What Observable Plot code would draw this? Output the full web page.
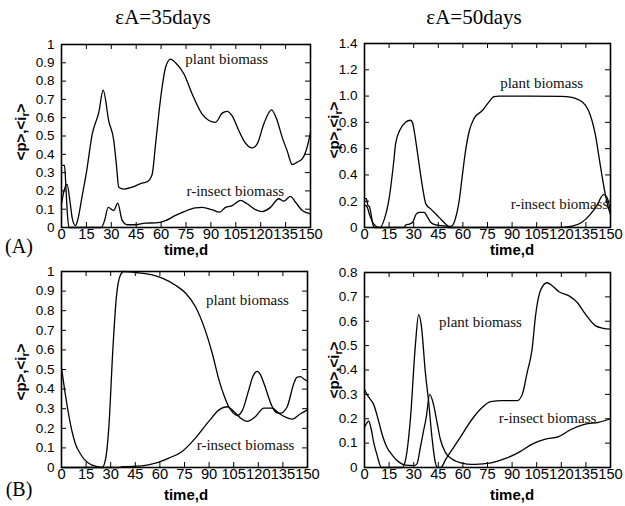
<!DOCTYPE html>
<html><head><meta charset="utf-8">
<script src="https://cdn.jsdelivr.net/npm/d3@7"></script>
<script src="https://cdn.jsdelivr.net/npm/@observablehq/plot@0.6"></script>
<style>
body{margin:0;background:#fff}
#wrap{position:relative;width:625px;height:506px;overflow:hidden;background:#fff;font-family:"Liberation Sans",Arial,sans-serif;color:#000}
#wrap svg{position:absolute}
.abs{position:absolute;white-space:nowrap;line-height:1;transform:translate(-50%,-50%)}
.title{font-family:"Liberation Serif","Times New Roman",serif;font-size:21px}
.pl{font-family:"Liberation Serif","Times New Roman",serif;font-size:20px}
.xl{font-weight:bold;font-size:15px}
.yl{font-weight:bold;font-size:15px;transform:translate(-50%,-50%) rotate(-90deg)}
.yl sub{font-size:70%;vertical-align:-3px;line-height:0}
</style></head><body><div id="wrap"></div>
<script>
// ---- tick values and labels ----
const xTicks = [0,15,30,45,60,75,90,105,120,135,150];
const xTickLabels = ["0","15","30","45","60","75","90","105","120","135","150"];
const yTicks10 = [0,0.1,0.2,0.3,0.4,0.5,0.6,0.7,0.8,0.9,1];
const yLabels10 = ["0","0.1","0.2","0.3","0.4","0.5","0.6","0.7","0.8","0.9","1"];
const yTicks14 = [0,0.2,0.4,0.6,0.8,1.0,1.2,1.4];
const yLabels14 = ["0","0.2","0.4","0.6","0.8","1.0","1.2","1.4"];
const yTicks08 = [0,0.1,0.2,0.3,0.4,0.5,0.6,0.7,0.8];
const yLabels08 = ["0","0.1","0.2","0.3","0.4","0.5","0.6","0.7","0.8"];

// ---- (A) eA=35 days ----
const aL_plantT = [0,1.5,3.4,5,6.5,8.4,10,12.4,15,18.5,22.5,25.1,28.5,31.5,33,34.5,37.5,42.6,47.6,51.6,54.6,56.6,58.6,60.5,62.7,65.7,68.7,73.7,78.7,84.7,88.8,92.8,96.8,99.8,102.8,106.8,109.8,114.9,117.9,121.9,126.5,129.9,132.9,135.9,139,142,145,148,150];
const aL_plantV = [0.13,0.2,0.235,0.15,0.05,0.01,0.05,0.17,0.3,0.51,0.63,0.75,0.58,0.475,0.35,0.22,0.21,0.22,0.24,0.25,0.29,0.45,0.62,0.76,0.876,0.92,0.9,0.84,0.73,0.62,0.585,0.575,0.625,0.635,0.61,0.53,0.475,0.435,0.457,0.567,0.643,0.585,0.494,0.42,0.344,0.357,0.375,0.44,0.52];
const aL_insT = [0,1.8,2.5,3.5,4.5,24,26,28.1,31.5,33.9,36.5,39.6,44.6,50.6,56.6,62.7,68.7,74.7,80.7,84.7,90.8,95.2,98.8,102.8,107.8,111.8,116.9,120.9,125.9,130.9,133.9,137.9,141,145,150];
const aL_insV = [0.34,0.34,0.25,0.08,0,0,0.04,0.11,0.093,0.133,0.04,0.015,0.015,0.024,0.025,0.038,0.066,0.09,0.107,0.11,0.097,0.084,0.11,0.12,0.148,0.13,0.098,0.087,0.11,0.157,0.144,0.17,0.138,0.093,0.075];

// ---- (A) eA=50 days ----
const aR_plantT = [0,1.5,3,5,7,9.5,12,15,17.9,19,21.9,25,28,29.2,30.5,32.4,35.4,37.4,40.5,45.5,49.6,51.6,53,54.7,56.5,57.7,59.5,61.7,64,66.8,71.9,75.9,78.9,82,100,120,126.5,130,132.6,136.6,140.7,143.7,146.8,148.5,150];
const aR_plantV = [0.17,0.16,0.1,0.04,0.01,0,0.06,0.22,0.51,0.64,0.75,0.8,0.816,0.8,0.72,0.56,0.306,0.18,0.14,0.077,0.025,0.008,0.01,0.04,0.12,0.2,0.38,0.59,0.74,0.83,0.89,0.956,0.995,1,1,0.998,0.99,0.975,0.957,0.89,0.71,0.48,0.255,0.16,0.1];
const aR_insT = [0,1.2,2,3,4,5,6,24,25.3,27.3,29.4,31.4,33.4,36.4,38.5,40.5,43.5,49.6,51,118,126.5,132.6,137.7,141.7,145.7,147.8,150];
const aR_insV = [0.22,0.22,0.17,0.16,0.1,0.03,0,0,0.02,0.026,0.04,0.1,0.115,0.115,0.077,0.038,0.02,0.01,0,0,0.01,0.04,0.1,0.166,0.25,0.23,0.13];

// ---- (B) eA=35 days ----
const bL_plantT = [0,2.4,5.5,8.5,11.5,14,18,23,24.8,26.8,28.9,31.3,33.3,36,38,45.1,55.3,61.4,69.5,75.6,81.7,86.8,91.9,96,99,102,104.5,107.1,110.2,114.2,116.5,119.3,121.5,123.4,128.5,131,133.5,137.6,141.7,143.5,145.7,148,150];
const bL_plantV = [0.51,0.37,0.22,0.12,0.07,0.04,0.015,0.003,0,0.04,0.21,0.6,0.855,0.983,1,0.995,0.983,0.966,0.93,0.89,0.82,0.72,0.583,0.447,0.37,0.31,0.28,0.265,0.29,0.396,0.46,0.49,0.47,0.43,0.31,0.28,0.277,0.31,0.43,0.46,0.464,0.45,0.44];
const bL_insT = [0,35,37,49.2,57.3,65.4,73.6,81.7,89.8,96,101,105.1,109.2,113.2,118.3,123.4,128.5,132.5,136.6,140.7,145.7,150];
const bL_insV = [0,0,0.004,0.008,0.022,0.048,0.082,0.15,0.235,0.294,0.31,0.286,0.252,0.235,0.26,0.303,0.303,0.277,0.257,0.247,0.274,0.294];

// ---- (B) eA=50 days ----
const bR_plantT = [0,1.2,2.6,4,5.7,7.7,10.3,23,25,28,31,33,34.7,37.1,39.1,41.2,43.2,44.6,46.5,49.6,57.7,65.8,71.9,76.9,84,93.1,96.2,99.2,102.2,104.3,107.3,111.3,114.3,118.4,124.5,129.6,134.6,140.7,145.7,150];
const bR_plantV = [0.165,0.18,0.19,0.16,0.1,0.05,0,0,0.03,0.2,0.5,0.627,0.58,0.39,0.27,0.12,0.02,0,0,0.034,0.116,0.2,0.247,0.27,0.274,0.274,0.3,0.39,0.486,0.623,0.726,0.758,0.747,0.722,0.705,0.678,0.63,0.582,0.571,0.568];
const bR_insT = [0,1.5,3.5,5.5,7,9,11,13.5,17,21,25,30,32,34,36,37.5,39.8,42.2,44.2,46.2,49.3,53.3,59.4,65.5,69.8,77.9,86,94.1,102.2,110.3,118.4,126.5,134.6,142.7,150];
const bR_insV = [0.32,0.3,0.28,0.26,0.23,0.18,0.13,0.085,0.05,0.022,0.01,0.008,0.015,0.08,0.15,0.2,0.3,0.255,0.186,0.117,0.062,0.035,0.018,0.013,0.014,0.02,0.037,0.062,0.096,0.116,0.127,0.158,0.178,0.185,0.2];

// ---- curve labels ----
const labelNames = ["plant biomass","r-insect biomass"];
const aL_labelX = [99.5,104.7], aL_labelY = [0.918,0.197];
const aR_labelX = [108,118.9],  aR_labelY = [1.10,0.175];
const bL_labelX = [113.4,112.2], bL_labelY = [0.852,0.112];
const bR_labelX = [70.7,111.6],  bR_labelY = [0.598,0.202];

const wrap = document.getElementById("wrap");
const series = (T, V) => T.map((t, i) => ({t, v: V[i]}));

function panel(c) {
  const ih = c.height - c.mt - c.mb, iw = c.width - c.ml - c.mr, tk = 5;
  const xMap = new Map(xTicks.map((d, i) => [d, xTickLabels[i]]));
  const yMap = new Map(c.yTicks.map((d, i) => [d, c.yLabels[i]]));
  const labels = labelNames.map((text, i) => ({text, x: c.lx[i], y: c.ly[i]}));
  const svg = Plot.plot({
    width: c.width, height: c.height,
    marginLeft: c.ml, marginRight: c.mr, marginTop: c.mt, marginBottom: c.mb,
    x: {domain: [0, 150]},
    y: {domain: c.yDomain},
    style: {fontFamily: "'Liberation Sans', Arial, sans-serif", fontSize: "14px", color: "#000", background: "transparent", overflow: "visible"},
    marks: [
      Plot.ruleX(xTicks, {insetTop: ih - tk, stroke: "#000"}),
      Plot.ruleX(xTicks, {insetBottom: ih - tk, stroke: "#000"}),
      Plot.ruleY(c.yTicks, {insetRight: iw - tk, stroke: "#000"}),
      Plot.ruleY(c.yTicks, {insetLeft: iw - tk, stroke: "#000"}),
      Plot.axisX({ticks: xTicks, tickSize: 0, tickPadding: 1, tickFormat: d => xMap.get(d), label: null, fontSize: 14.7}),
      Plot.axisY({ticks: c.yTicks, tickSize: 0, tickPadding: 7, tickFormat: d => yMap.get(d), label: null, fontSize: 13.5}),
      Plot.line(series(c.plantT, c.plantV), {x: "t", y: "v", curve: "monotone-x", stroke: "#000", strokeWidth: 1.3}),
      Plot.line(series(c.insT, c.insV), {x: "t", y: "v", curve: "monotone-x", stroke: "#000", strokeWidth: 1.3}),
      Plot.text(labels, {x: "x", y: "y", text: "text", fontFamily: "'Liberation Serif', 'Times New Roman', serif", fontSize: 15, fill: "#111"}),
      Plot.frame({stroke: "#000", strokeWidth: 1.6})
    ]
  });
  svg.style.left = c.left + "px";
  svg.style.top = c.top + "px";
  wrap.appendChild(svg);
}

panel({left: 0, top: 34, width: 318, height: 212, ml: 61, mr: 8, mt: 10, mb: 19,
  yDomain: [0, 1], yTicks: yTicks10, yLabels: yLabels10,
  plantT: aL_plantT, plantV: aL_plantV, insT: aL_insT, insV: aL_insV, lx: aL_labelX, ly: aL_labelY});
panel({left: 318, top: 34, width: 307, height: 212, ml: 46, mr: 15, mt: 9, mb: 19,
  yDomain: [0, 1.4], yTicks: yTicks14, yLabels: yLabels14,
  plantT: aR_plantT, plantV: aR_plantV, insT: aR_insT, insV: aR_insV, lx: aR_labelX, ly: aR_labelY});
panel({left: 0, top: 261, width: 318, height: 225, ml: 61, mr: 11, mt: 10, mb: 19,
  yDomain: [0, 1], yTicks: yTicks10, yLabels: yLabels10,
  plantT: bL_plantT, plantV: bL_plantV, insT: bL_insT, insV: bL_insV, lx: bL_labelX, ly: bL_labelY});
panel({left: 318, top: 261, width: 307, height: 225, ml: 46, mr: 15, mt: 11, mb: 19,
  yDomain: [0, 0.8], yTicks: yTicks08, yLabels: yLabels08,
  plantT: bR_plantT, plantV: bR_plantV, insT: bR_insT, insV: bR_insV, lx: bR_labelX, ly: bR_labelY});

// ---- HTML text overlays ----
function addText(cls, html, x, y) {
  const d = document.createElement("div");
  d.className = "abs " + cls;
  d.innerHTML = html;
  d.style.left = x + "px";
  d.style.top = y + "px";
  wrap.appendChild(d);
}
const ylab = "&lt;p&gt;,&lt;i<sub>r</sub>&gt;";
addText("title", "\u03b5A=35days", 163, 17);
addText("title", "\u03b5A=50days", 474, 17);
addText("xl", "time,d", 186, 249);
addText("xl", "time,d", 512, 249);
addText("xl", "time,d", 186, 494);
addText("xl", "time,d", 512, 494);
addText("yl", ylab, 20, 132);
addText("yl", ylab, 333, 130);
addText("yl", ylab, 20, 372);
addText("yl", ylab, 333, 370);
addText("pl", "(A)", 19, 246);
addText("pl", "(B)", 19, 489);
</script></body></html>
